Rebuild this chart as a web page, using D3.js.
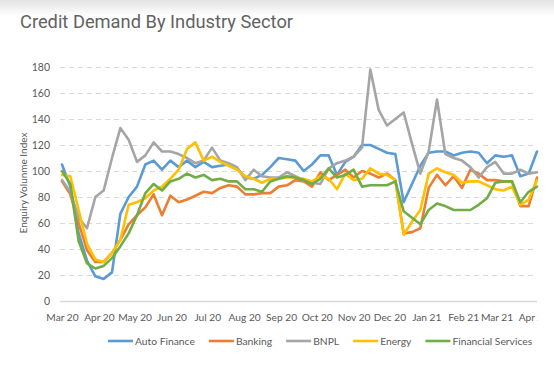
<!DOCTYPE html>
<html>
<head>
<meta charset="utf-8">
<script src="https://cdn.jsdelivr.net/npm/d3@7"></script>
<style>
body { margin: 0; background: #fff; }
svg { display: block; }
</style>
</head>
<body>
<svg id="chart" width="554" height="372"></svg>
<script>
var width = 554;
var height = 372;

// weekly categories, first week and count
var startWeek = new Date(2020, 2, 1);
var weekCount = 58;
var monthLabels = ["Mar 20", "Apr 20", "May 20", "Jun 20", "Jul 20", "Aug 20", "Sep 20",
    "Oct 20", "Nov 20", "Dec 20", "Jan 21", "Feb 21", "Mar 21", "Apr 21"];
var yTicks = [0, 20, 40, 60, 80, 100, 120, 140, 160, 180];

var seriesNames = ["Auto Finance", "Banking", "BNPL", "Energy", "Financial Services"];
var seriesColors = ["#5b9bd5", "#ed7d31", "#a5a5a5", "#ffc000", "#70ad47"];

var autoFinance = [105, 88, 52, 31, 19, 17, 22, 67, 80, 88, 105, 108,
    101, 108, 103, 108, 103, 107, 103, 104, 105, 102, 95, 94,
    97, 103, 110, 109, 108, 100, 105, 112, 112, 97, 107, 111,
    120, 120, 117, 114, 113, 76, 90, 104, 114, 115, 115,
    112, 114, 115, 114, 106, 112, 111, 112, 96, 98, 115];
var banking = [92, 82, 60, 39, 30, 30, 37, 47, 59, 66, 72, 82,
    66, 81, 76, 78, 81, 84, 83, 87, 89, 88, 82, 82,
    83, 83, 88, 89, 93, 92, 88, 99, 93, 97, 101, 95,
    100, 98, 95, 98, 93, 52, 53, 56, 87, 97, 89,
    96, 87, 101, 98, 93, 93, 92, 92, 73, 73, 95];
var bnpl = [93, 84, 64, 56, 80, 85, 110, 133, 124, 107, 112, 122,
    115, 115, 113, 110, 106, 108, 118, 108, 106, 103, 93, 101,
    96, 95, 95, 99, 96, 93, 91, 90, 102, 106, 108, 111,
    118, 178, 147, 135, 140, 145, 121, 98, 115, 155, 113,
    110, 108, 103, 95, 103, 107, 98, 98, 101, 98, 99];
var energy = [97, 96, 70, 44, 32, 30, 37, 47, 74, 76, 79, 85,
    88, 94, 101, 117, 122, 108, 111, 107, 104, 101, 96, 94,
    91, 94, 94, 95, 95, 94, 92, 96, 94, 86, 98, 93,
    94, 102, 98, 97, 93, 51, 61, 70, 98, 102, 99,
    97, 91, 92, 92, 89, 86, 85, 88, 74, 78, 93];
var financialServices = [100, 90, 46, 29, 25, 27, 33, 42, 52, 66, 83, 90,
    85, 92, 94, 98, 95, 97, 93, 94, 92, 92, 86, 86,
    84, 92, 94, 96, 95, 93, 90, 94, 102, 95, 97, 101,
    88, 89, 89, 89, 92, 69, 64, 59, 70, 75, 73,
    70, 70, 70, 74, 79, 91, 92, 92, 76, 84, 88];

var seriesValues = [autoFinance, banking, bnpl, energy, financialServices];

var padding = { t: 67, r: 17, b: 71, l: 62 };
var textColor = "#595959";
var fontFamily = "Lato, 'Open Sans', sans-serif";

var weeks = d3.range(weekCount).map(function (i) {
    return d3.timeDay.offset(startWeek, 7 * i);
});
var parseMonth = d3.timeParse("%b %y");
var monthDates = monthLabels.map(function (m) { return parseMonth(m); });

var svg = d3.select("#chart");

// Scales
var xScale = d3.scaleTime()
    .domain([weeks[0], weeks[weeks.length - 1]])
    .range([padding.l, width - padding.r]);
var yScale = d3.scaleLinear()
    .domain([0, 180])
    .range([height - padding.b, padding.t]);

// faint grey band at the very top
var defs = svg.append("defs");
var grad = defs.append("linearGradient")
    .attr("id", "topFade")
    .attr("x1", 0).attr("y1", 0).attr("x2", 0).attr("y2", 1);
grad.append("stop").attr("offset", "0%").attr("stop-color", "#e3e3e3");
grad.append("stop").attr("offset", "100%").attr("stop-color", "#ffffff");
svg.append("rect")
    .attr("x", 0).attr("y", 0)
    .attr("width", width).attr("height", 16)
    .attr("fill", "url(#topFade)");

defs.append("clipPath")
    .attr("id", "xClip")
    .append("rect")
    .attr("x", 0).attr("y", 0)
    .attr("width", width - padding.r + 1).attr("height", height);

// Title
svg.append("text")
    .attr("x", 20)
    .attr("y", 28)
    .style("font-family", "Roboto, sans-serif")
    .style("font-size", "18.3px")
    .style("fill", "#626262")
    .text("Credit Demand By Industry Sector");

// Y axis with gridlines
var yAxis = d3.axisLeft(yScale)
    .tickValues(yTicks)
    .tickSize(-(width - padding.r - padding.l + 2))
    .tickPadding(10);

var yAxisG = svg.append("g")
    .attr("transform", "translate(" + (padding.l - 2) + ",0)")
    .call(yAxis);
yAxisG.select(".domain").remove();
yAxisG.selectAll(".tick line")
    .attr("stroke", "#d9d9d9")
    .attr("stroke-width", function (d) { return d === 0 ? 1.5 : 1.2; })
    .attr("stroke-dasharray", function (d) { return d === 0 ? null : "5,4"; });
yAxisG.selectAll(".tick text")
    .style("font-family", fontFamily)
    .style("font-size", "10.5px")
    .style("fill", textColor);

// X axis, month labels
var xAxis = d3.axisBottom(xScale)
    .tickValues(monthDates)
    .tickFormat(d3.timeFormat("%b %y"))
    .tickSize(0)
    .tickPadding(13);

var xAxisG = svg.append("g")
    .attr("clip-path", "url(#xClip)")
    .append("g")
    .attr("transform", "translate(0," + (height - padding.b) + ")")
    .call(xAxis);
xAxisG.select(".domain").remove();
xAxisG.selectAll(".tick text")
    .style("font-family", fontFamily)
    .style("font-size", "10.2px")
    .style("fill", textColor);

// Y axis title
svg.append("text")
    .attr("transform", "translate(27," + ((padding.t + height - padding.b) / 2 - 1) + ") rotate(-90)")
    .attr("text-anchor", "middle")
    .style("font-family", fontFamily)
    .style("font-size", "10px")
    .style("fill", textColor)
    .text("Enquiry Volunme Index");

// Lines
var line = d3.line()
    .x(function (d, i) { return xScale(weeks[i]); })
    .y(function (d) { return yScale(d); });

svg.append("g")
    .selectAll("path")
    .data(seriesValues)
    .enter()
    .append("path")
    .attr("d", line)
    .attr("fill", "none")
    .attr("stroke", function (d, i) { return seriesColors[i]; })
    .attr("stroke-width", 2.6)
    .attr("stroke-linejoin", "round")
    .attr("stroke-linecap", "round");

// Legend
var legendY = 341;
var legendX = 108;
seriesNames.forEach(function (name, i) {
    var g = svg.append("g").attr("transform", "translate(" + legendX + "," + legendY + ")");
    g.append("line")
        .attr("x1", 0).attr("x2", 25)
        .attr("y1", 0).attr("y2", 0)
        .attr("stroke", seriesColors[i])
        .attr("stroke-width", 2.6);
    var t = g.append("text")
        .attr("x", 27)
        .attr("y", 0)
        .attr("dy", "0.35em")
        .style("font-family", fontFamily)
        .style("font-size", "10.3px")
        .style("fill", textColor)
        .text(name);
    legendX += 27 + t.node().getComputedTextLength() + 14;
});
</script>
</body>
</html>
